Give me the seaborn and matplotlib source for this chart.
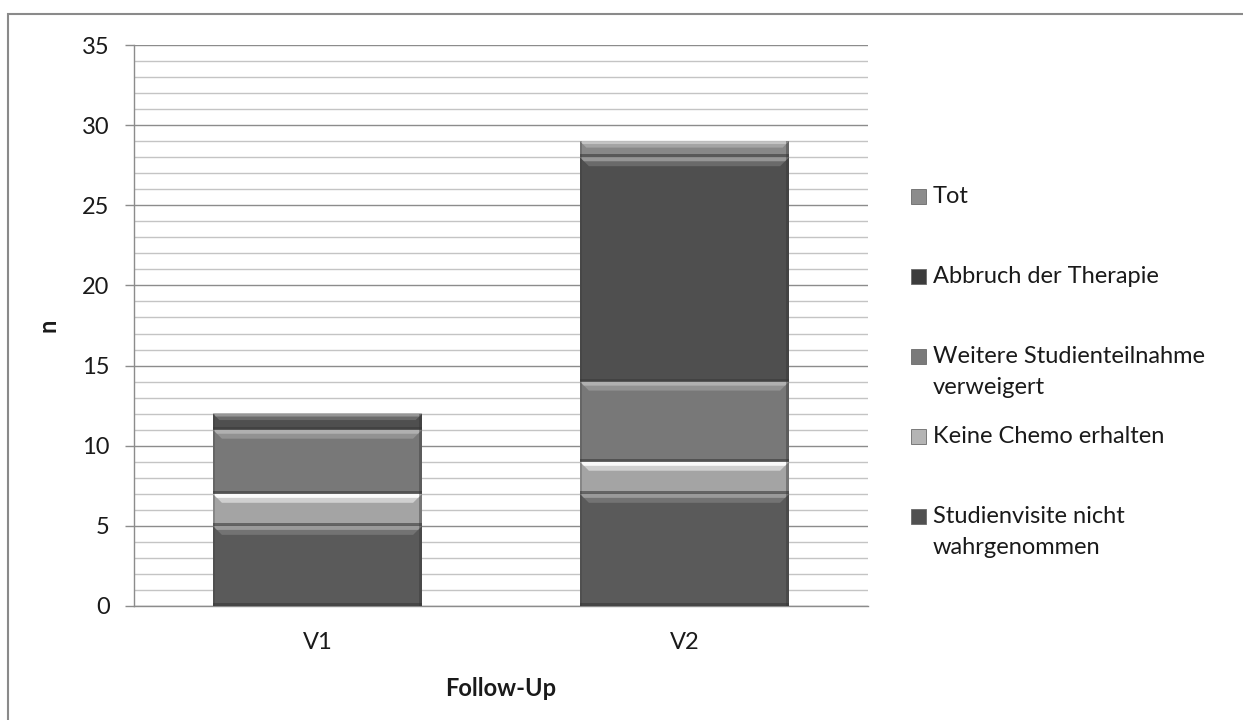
import numpy as np
import pandas as pd
import seaborn as sns
import matplotlib.pyplot as plt
from matplotlib.patches import Rectangle, Polygon

# Data: reasons for drop-out per follow-up visit (stacked from bottom to top)
visits = ["V1", "V2"]
series = [
    "Studienvisite nicht\nwahrgenommen",
    "Keine Chemo erhalten",
    "Weitere Studienteilnahme\nverweigert",
    "Abbruch der Therapie",
    "Tot",
]
studienvisite = [5, 7]
keine_chemo = [2, 2]
verweigert = [4, 5]
abbruch = [1, 14]
tot = [0, 1]
values = [studienvisite, keine_chemo, verweigert, abbruch, tot]

# body, top-bevel highlight and legend-swatch colours per series
body_colors = ["#5a5a5a", "#a4a4a4", "#787878", "#4f4f4f", "#888888"]
bevel_light = ["#9a9a9a", "#fafafa", "#b0b0b0", "#969696", "#c4c4c4"]
bevel_mid = ["#737373", "#d0d0d0", "#929292", "#6a6a6a", "#a4a4a4"]
swatch_colors = ["#505050", "#b4b4b4", "#7a7a7a", "#3c3c3c", "#8c8c8c"]

sns.set_theme(style="white")
plt.rcParams["font.family"] = ["Lato", "DejaVu Sans"]
FS = 17

fig = plt.figure(figsize=(12.43, 7.2), dpi=100)
ax = fig.add_axes([134 / 1243, 1 - 606 / 720, (868 - 134) / 1243, (606 - 45) / 720])

# cumulative tops of each stacked segment
cum = np.cumsum(np.array(values), axis=0)
bottoms = np.vstack([np.zeros(len(visits)), cum[:-1]])

# draw from the tallest cumulative series down so each lower segment covers the rest
for i in range(len(series) - 1, -1, -1):
    df = pd.DataFrame({"visit": visits, "n": cum[i]})
    sns.barplot(data=df, x="visit", y="n", color=body_colors[i], saturation=1,
                width=0.57, ax=ax, linewidth=0, zorder=3)

# bevel decoration on each segment, derived from the bar geometry
bar_w = 0.57
px_y = 35 / (606 - 45)          # data units per pixel (y)
px_x = 2.0 / (868 - 134)         # data units per pixel (x)
for i in range(len(series)):
    for j, v in enumerate(visits):
        h = values[i][j]
        if h <= 0:
            continue
        b = bottoms[i][j]
        t = b + h
        x0 = j - bar_w / 2
        x1 = j + bar_w / 2
        bev = min(9 * px_y, h * 0.4)
        inset = bev / px_y * px_x
        # graded top bevel: medium trapezoid with a light strip on top
        ax.add_patch(Polygon([(x0, t), (x1, t), (x1 - inset, t - bev), (x0 + inset, t - bev)],
                             closed=True, facecolor=bevel_mid[i], edgecolor="none", zorder=4))
        ax.add_patch(Polygon([(x0, t), (x1, t), (x1 - inset * 0.45, t - bev * 0.45),
                              (x0 + inset * 0.45, t - bev * 0.45)],
                             closed=True, facecolor=bevel_light[i], edgecolor="none", zorder=4))
        # darker bottom edge and side shading
        ax.add_patch(Rectangle((x0, b), bar_w, 3 * px_y, facecolor="#3a3a3a",
                               edgecolor="none", zorder=4, alpha=0.6))
        ax.add_patch(Rectangle((x1 - 3 * px_x, b), 3 * px_x, h, facecolor="#333333",
                               edgecolor="none", zorder=4, alpha=0.4))
        ax.add_patch(Rectangle((x0, b), 2 * px_x, h, facecolor="#333333",
                               edgecolor="none", zorder=4, alpha=0.25))

# axes styling
ax.set_xlim(-0.5, 1.5)
ax.set_ylim(0, 35)
ax.set_yticks(np.arange(0, 36, 5))
ax.set_yticks(np.arange(0, 36, 1), minor=True)
ax.yaxis.grid(True, which="minor", color="#c4c4c4", linewidth=1.0, zorder=0)
ax.yaxis.grid(True, which="major", color="#8c8c8c", linewidth=1.0, zorder=1)
ax.set_axisbelow(True)
for side in ["top", "right"]:
    ax.spines[side].set_visible(False)
for side in ["left", "bottom"]:
    ax.spines[side].set_color("#8c8c8c")
    ax.spines[side].set_linewidth(1.0)
ax.tick_params(axis="y", which="major", left=True, length=6.5, width=1.0, color="#8c8c8c",
               pad=11, labelsize=FS, labelcolor="#1a1a1a")
ax.tick_params(axis="y", which="minor", left=False)
ax.tick_params(axis="x", length=0, pad=19, labelsize=FS, labelcolor="#1a1a1a")

ax.set_xlabel("Follow-Up", fontsize=FS, fontweight="bold", color="#1a1a1a", labelpad=17)
ax.set_ylabel("n", fontsize=FS, fontweight="bold", color="#1a1a1a", labelpad=16)

# legend on the right, top entry first, in evenly spaced slots
slot_y = [517, 437, 357, 277, 197]
for i in range(len(series)):
    yc = 1 - slot_y[i] / 720
    fig.patches.append(Rectangle((911 / 1243, yc - 7 / 720), 15 / 1243, 15 / 720,
                                 transform=fig.transFigure, facecolor=swatch_colors[i],
                                 edgecolor="#6a6a6a", linewidth=0.6, figure=fig))
    fig.text(933 / 1243, yc + 11 / 720, series[i], fontsize=FS, color="#1a1a1a",
             va="top", ha="left", linespacing=1.6)

# chart-area frame
fig.patches.append(Rectangle((8 / 1243, -0.01), 1.02, 1 - 14 / 720 + 0.01,
                             transform=fig.transFigure, facecolor="none",
                             edgecolor="#8a8a8a", linewidth=1.5, figure=fig))

fig.savefig("out.png", dpi=100)
